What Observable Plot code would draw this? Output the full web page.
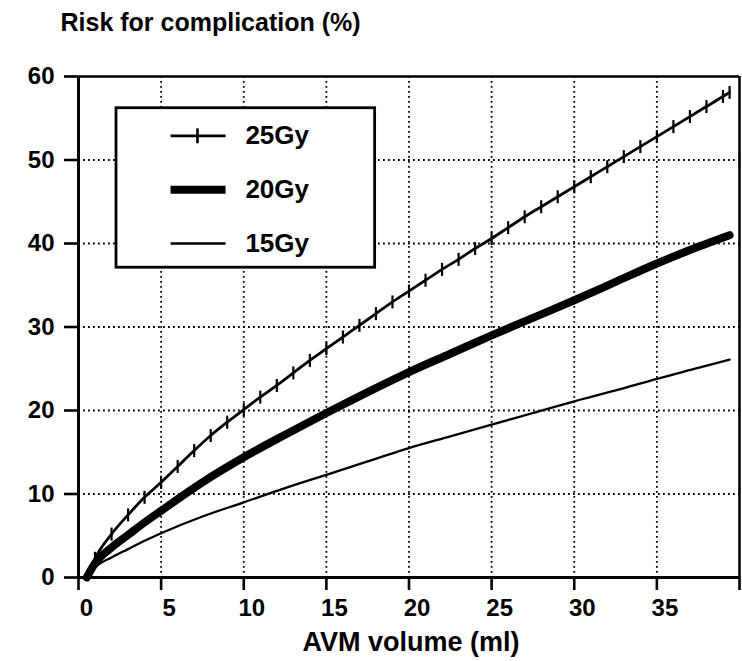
<!DOCTYPE html>
<html>
<head>
<meta charset="utf-8">
<script src="https://cdn.jsdelivr.net/npm/d3@7"></script>
<script src="https://cdn.jsdelivr.net/npm/@observablehq/plot@0.6"></script>
<style>
  html, body { margin: 0; padding: 0; background: #fff; }
  svg text { font-weight: bold; }
</style>
</head>
<body>
<div id="chart"></div>
<script>
// ---- data ----
const titleText = "Risk for complication (%)";
const xLabelText = "AVM volume (ml)";
const series = ["25Gy", "20Gy", "15Gy"];
const xTicks = [0, 5, 10, 15, 20, 25, 30, 35];
const xTickMarks = [0, 5, 10, 15, 20, 25, 30, 35, 40];
const yTicks = [0, 10, 20, 30, 40, 50, 60];

// 25 Gy (one reading per ml, each carries a cross-tick)
const vol25  = [0.5, 1, 2, 3, 4, 5, 6, 7, 8, 9, 10, 11, 12, 13, 14, 15, 16, 17, 18, 19, 20,
                21, 22, 23, 24, 25, 26, 27, 28, 29, 30, 31, 32, 33, 34, 35, 36, 37, 38, 39, 39.4];
const risk25 = [0, 2.3, 5.2, 7.5, 9.6, 11.4, 13.3, 15.2, 17.0, 18.6, 20.1, 21.6, 23.0, 24.5, 26.0, 27.4, 28.8, 30.2, 31.6, 33.0, 34.3,
                35.6, 36.9, 38.1, 39.4, 40.6, 41.9, 43.2, 44.4, 45.6, 46.8, 48.0, 49.2, 50.4, 51.6, 52.8, 54.0, 55.2, 56.4, 57.6, 58.1];

// 20 Gy
const vol20  = [0.5, 1, 2, 3, 4, 5, 7.5, 10, 12.5, 15, 17.5, 20, 22.5, 25, 27.5, 30, 32.5, 35, 37.5, 39.4];
const risk20 = [0, 1.7, 3.6, 5.1, 6.6, 8.0, 11.4, 14.4, 17.1, 19.7, 22.2, 24.6, 26.8, 29.0, 31.1, 33.2, 35.4, 37.6, 39.6, 41.0];

// 15 Gy
const vol15  = [0.5, 1, 2, 3, 4, 5, 7.5, 10, 12.5, 15, 17.5, 20, 22.5, 25, 27.5, 30, 32.5, 35, 37.5, 39.4];
const risk15 = [0, 1.2, 2.4, 3.4, 4.4, 5.3, 7.3, 9.0, 10.7, 12.3, 13.9, 15.5, 16.9, 18.3, 19.7, 21.1, 22.4, 23.8, 25.1, 26.1];

// ---- layout / style (kept apart from data) ----
const legendBox = {x1: 2.3, x2: 17.95, y1: 37.1, y2: 56.2};
const legendRowY = [52.9, 46.45, 40.0];
const legendLineX = [5.57, 8.9];
const legendCrossX = 7.2;
const legendTextX = 10.1;
const lineWidths = [2.8, 8, 2.3];

const rows = (xs, ys) => xs.map((x, i) => ({x, y: ys[i]}));
const d25 = rows(vol25, risk25);
const d20 = rows(vol20, risk20);
const d15 = rows(vol15, risk15);

const vline = {
  draw(context, size) {
    const r = Math.sqrt(size / Math.PI);
    context.moveTo(0, -r);
    context.lineTo(0, r);
  }
};

const legendRows = series.map((s, i) => ({label: s, y: legendRowY[i], w: lineWidths[i]}));

const chart = Plot.plot({
  width: 742,
  height: 661,
  marginLeft: 78,
  marginRight: 3,
  marginTop: 76,
  marginBottom: 84,
  style: {fontFamily: "'Liberation Sans', Arial, Helvetica, sans-serif", fontWeight: "bold", background: "white", color: "black"},
  x: {domain: [0, 40], label: null},
  y: {domain: [0, 60], label: null},
  marks: [
    Plot.gridX(xTicks.filter(d => d > 0), {stroke: "black", strokeOpacity: 1, strokeWidth: 1.8, strokeDasharray: "1.8,3.2"}),
    Plot.gridY(yTicks.filter(d => d > 0 && d < 60), {stroke: "black", strokeOpacity: 1, strokeWidth: 1.8, strokeDasharray: "1.8,3.2"}),
    Plot.ruleY([60], {stroke: "black", strokeWidth: 2.4}),
    Plot.ruleX([40], {stroke: "black", strokeWidth: 2.6}),
    Plot.ruleX([0], {stroke: "black", strokeWidth: 3}),
    Plot.ruleY([0], {stroke: "black", strokeWidth: 3}),
    Plot.axisX({ticks: xTickMarks, tickSize: 13, tickFormat: () => "", strokeWidth: 2.6, label: null}),
    Plot.text(xTicks, {x: d => d, frameAnchor: "bottom", dy: 31, dx: 8, fontSize: 24, fontWeight: "bold", lineAnchor: "middle", fill: "black"}),
    Plot.axisY({ticks: yTicks, tickSize: 14, tickPadding: 10, fontSize: 24, fontWeight: "bold", strokeWidth: 2.6, label: null, fill: "black"}),
    // legend
    Plot.rect([legendBox], {x1: "x1", x2: "x2", y1: "y1", y2: "y2", fill: "white", stroke: "black", strokeWidth: 2.8}),
    Plot.link(legendRows, {x1: legendLineX[0], x2: legendLineX[1], y1: "y", y2: "y", stroke: "black", strokeWidth: "w"}),
    Plot.dot([legendRows[0]], {x: legendCrossX, y: "y", symbol: vline, r: 7.5, stroke: "black", strokeWidth: 2.6, fill: "none"}),
    Plot.text(legendRows, {x: legendTextX, y: "y", text: "label", textAnchor: "start", lineAnchor: "middle", fontSize: 26, fontWeight: "bold", fill: "black"}),
    // curves
    Plot.line(d15, {x: "x", y: "y", stroke: "black", strokeWidth: lineWidths[2], curve: "monotone-x"}),
    Plot.line(d20, {x: "x", y: "y", stroke: "black", strokeWidth: lineWidths[1], curve: "monotone-x", strokeLinecap: "round"}),
    Plot.line(d25, {x: "x", y: "y", stroke: "black", strokeWidth: lineWidths[0], curve: "monotone-x"}),
    Plot.dot(d25.slice(1), {x: "x", y: "y", symbol: vline, r: 6.5, stroke: "black", strokeWidth: 2.2, fill: "none"}),
    // titles
    Plot.text([titleText], {frameAnchor: "top-left", dx: -18, dy: -46, textAnchor: "start", lineAnchor: "bottom", fontSize: 25, fontWeight: "bold", fill: "black"}),
    Plot.text([xLabelText], {frameAnchor: "bottom", dx: 2, dy: 73, textAnchor: "middle", lineAnchor: "bottom", fontSize: 27, fontWeight: "bold", fill: "black"})
  ]
});
document.getElementById("chart").appendChild(chart);
</script>
</body>
</html>
